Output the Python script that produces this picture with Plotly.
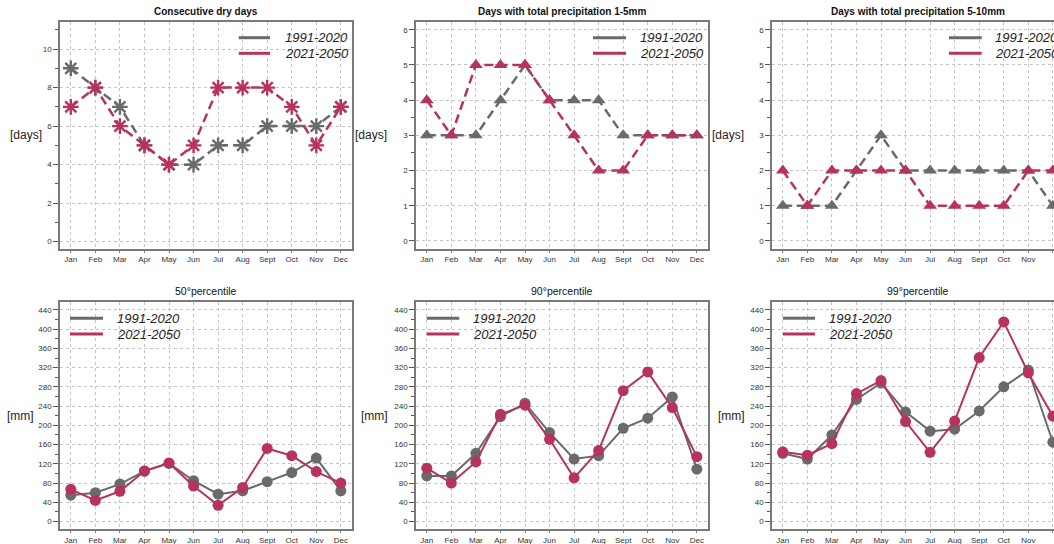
import plotly.graph_objects as go

months = ["Jan", "Feb", "Mar", "Apr", "May", "Jun", "Jul", "Aug", "Sept", "Oct", "Nov", "Dec"]
periods = ["1991-2020", "2021-2050"]

# Consecutive dry days
cdd_past = [9, 8, 7, 5, 4, 4, 5, 5, 6, 6, 6, 7]
cdd_future = [7, 8, 6, 5, 4, 5, 8, 8, 8, 7, 5, 7]

# Days with total precipitation 1-5mm
p1_5_past = [3, 3, 3, 4, 5, 4, 4, 4, 3, 3, 3, 3]
p1_5_future = [4, 3, 5, 5, 5, 4, 3, 2, 2, 3, 3, 3]

# Days with total precipitation 5-10mm
p5_10_past = [1, 1, 1, 2, 3, 2, 2, 2, 2, 2, 2, 1]
p5_10_future = [2, 1, 2, 2, 2, 2, 1, 1, 1, 1, 2, 2]

# Precipitation percentiles [mm]
p50_past = [55, 60, 78, 105, 121, 85, 57, 64, 83, 102, 132, 64]
p50_future = [67, 44, 63, 105, 122, 74, 34, 71, 152, 137, 104, 80]
p90_past = [95, 95, 142, 218, 246, 185, 130, 137, 194, 215, 259, 109]
p90_future = [111, 80, 124, 223, 242, 171, 91, 148, 272, 311, 237, 135]
p99_past = [142, 130, 180, 254, 288, 228, 188, 192, 230, 280, 315, 165]
p99_future = [145, 138, 162, 266, 293, 208, 144, 209, 341, 415, 309, 219]

titles = ["Consecutive dry days", "Days with total precipitation 1-5mm",
          "Days with total precipitation 5-10mm",
          "50\u00b0percentile", "90\u00b0percentile", "99\u00b0percentile"]

GREY = "#6a6a6a"
RED = "#b8325f"
GRID = "#c4c4c4"
W, H = 1054, 544
FONT = "Liberation Sans, Arial, sans-serif"

panels = [
    dict(past=cdd_past, fut=cdd_future, sym="asterisk-open", row=0, col=0, unit="[days]"),
    dict(past=p1_5_past, fut=p1_5_future, sym="triangle-up", row=0, col=1, unit="[days]"),
    dict(past=p5_10_past, fut=p5_10_future, sym="triangle-up", row=0, col=2, unit="[days]"),
    dict(past=p50_past, fut=p50_future, sym="circle", row=1, col=0, unit="[mm]"),
    dict(past=p90_past, fut=p90_future, sym="circle", row=1, col=1, unit="[mm]"),
    dict(past=p99_past, fut=p99_future, sym="circle", row=1, col=2, unit="[mm]"),
]

# pixel geometry of the panels
col_left = [60, 416, 772]
panel_w = 292
month_px = 24.55
row_top = [21.7, 301.7]
row_bot = [249.0, 529.3]
yranges = [[[-0.38, 11.42], [-0.23, 6.23], [-0.23, 6.23]],
           [[-16, 457], [-16, 457], [-16, 457]]]
ydticks = [[2, 1, 1], [40, 40, 40]]
yminor = [[1, 0.5, 0.5], [20, 20, 20]]
unit_x = [[26, 371, 728], [20, 374, 731]]
legend_line = [[(238.7, 270), (593, 626), (949, 981.7)],
               [(70, 103), (426.7, 459.3), (783, 815)]]
legend_text_x = [[283, 638, 992.7], [115, 471, 826.7]]
legend_y = [[37.7, 53.3], [318.2, 334.0]]


def px_x(v):
    return v / W


def px_y(v):
    return 1 - v / H


fig = go.Figure()
annotations = []
shapes = []

for i, p in enumerate(panels):
    r, c = p["row"], p["col"]
    n = "" if i == 0 else str(i + 1)
    xa, ya = "x" + n, "y" + n
    left = col_left[c]
    right = min(left + panel_w, W)
    x0 = -0.44
    x1 = x0 + (right - left) / month_px

    dash = "9px,5px" if r == 0 else "solid"
    lw = 2.5 if r == 0 else 2
    msize = 12 if r == 0 else 11
    for vals, color in ((p["past"], GREY), (p["fut"], RED)):
        marker = dict(symbol=p["sym"], size=msize, color=color)
        if p["sym"] == "asterisk-open":
            marker["size"] = 13
            marker["line"] = dict(color=color, width=2.4)
        fig.add_trace(go.Scatter(
            x=list(range(12)), y=vals, mode="lines+markers",
            line=dict(color=color, width=lw, dash=dash),
            marker=marker, xaxis=xa, yaxis=ya, showlegend=False,
            cliponaxis=False))

    xkey = "xaxis" + n
    ykey = "yaxis" + n
    fig.layout[xkey] = dict(
        domain=[px_x(left), px_x(right)], range=[x0, x1], anchor=ya,
        tickmode="array", tickvals=list(range(12)), ticktext=months,
        showgrid=True, gridcolor=GRID, griddash="dot", gridwidth=1,
        zeroline=False, showline=True, linecolor="#7a7a7a", linewidth=1.5,
        mirror=True, ticks="outside", ticklen=2, tickcolor="#7a7a7a",
        tickfont=dict(size=8, color="#333", family=FONT), fixedrange=True)
    fig.layout[ykey] = dict(
        domain=[px_y(row_bot[r]), px_y(row_top[r])], range=yranges[r][c],
        anchor=xa, dtick=ydticks[r][c], tick0=0,
        showgrid=True, gridcolor=GRID, griddash="dot", gridwidth=1,
        zeroline=False, showline=True, linecolor="#7a7a7a", linewidth=1.5,
        mirror=(c != 2), ticks="outside", ticklen=5, tickcolor="#555",
        minor=dict(dtick=yminor[r][c], tick0=0, ticks="outside", ticklen=3,
                   tickcolor="#555", showgrid=False),
        tickfont=dict(size=8, color="#333", family=FONT), fixedrange=True)

    # panel title
    annotations.append(dict(
        x=px_x(left + panel_w / 2), y=px_y(row_top[r] - 3), xref="paper", yref="paper",
        text=("<b>%s</b>" % titles[i]) if r == 0 else titles[i],
        showarrow=False, xanchor="center", yanchor="bottom",
        font=dict(size=10 if r == 0 else 10.5, color="#111", family=FONT)))
    # unit label
    annotations.append(dict(
        x=px_x(unit_x[r][c]), y=px_y((row_top[r] + row_bot[r]) / 2),
        xref="paper", yref="paper", text=p["unit"], showarrow=False,
        xanchor="center", yanchor="middle",
        font=dict(size=12, color="#222", family=FONT)))
    # legend
    for k, (label, color) in enumerate(zip(periods, (GREY, RED))):
        ly = legend_y[r][k]
        lx0, lx1 = legend_line[r][c]
        shapes.append(dict(type="line", xref="paper", yref="paper",
                           x0=px_x(lx0), x1=px_x(lx1), y0=px_y(ly), y1=px_y(ly),
                           line=dict(color=color, width=3)))
        annotations.append(dict(
            x=px_x(legend_text_x[r][c]), y=px_y(ly), xref="paper", yref="paper",
            text="<i>%s</i>" % label, showarrow=False, xanchor="left",
            yanchor="middle", font=dict(size=13, color="#222", family=FONT)))

fig.update_layout(
    width=W, height=H, margin=dict(l=0, r=0, t=0, b=0),
    paper_bgcolor="white", plot_bgcolor="white",
    annotations=annotations, shapes=shapes, showlegend=False)

fig.write_html("out.html", config=dict(displayModeBar=False))
